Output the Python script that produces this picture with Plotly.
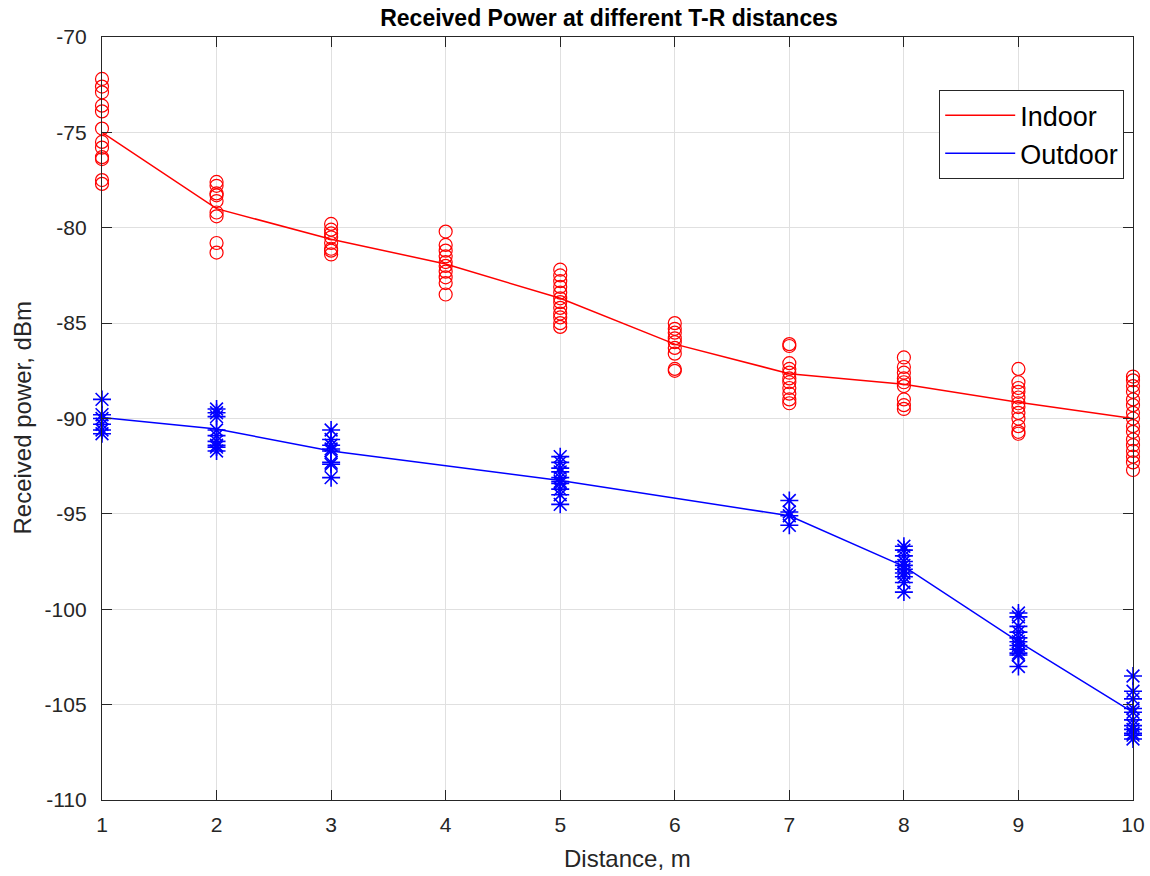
import plotly.graph_objects as go

# Measurement distances (m)
distances = [1, 2, 3, 4, 5, 6, 7, 8, 9, 10]

# Individual indoor measurements per distance (dBm)
indoor_samples = [
    [-72.2, -72.6, -72.9, -73.6, -73.9, -74.8, -75.5, -75.8, -76.3, -76.4, -77.5, -77.7],
    [-77.6, -77.8, -78.2, -78.3, -78.6, -79.2, -79.4, -80.8, -81.3],
    [-79.8, -80.1, -80.3, -80.5, -80.8, -81.1, -81.2, -81.4],
    [-80.2, -80.9, -81.2, -81.5, -81.8, -82.0, -82.3, -82.6, -82.9, -83.5],
    [-82.2, -82.5, -82.8, -83.1, -83.4, -83.7, -83.9, -84.2, -84.5, -84.7, -85.0, -85.2],
    [-85.0, -85.3, -85.5, -85.8, -86.0, -86.3, -86.6, -87.4, -87.5],
    [-86.1, -86.2, -87.1, -87.4, -87.6, -87.9, -88.1, -88.4, -88.7, -89.0, -89.2],
    [-86.8, -87.3, -87.6, -87.9, -88.1, -88.3, -89.0, -89.3, -89.5],
    [-87.4, -88.1, -88.4, -88.6, -88.9, -89.2, -89.4, -89.7, -90.0, -90.4, -90.7, -90.8],
    [-87.8, -88.0, -88.3, -88.6, -89.0, -89.3, -89.7, -90.0, -90.4, -90.7, -91.1,
     -91.4, -91.7, -92.0, -92.3, -92.7],
]
# Indoor average received power (dBm)
indoor_mean = [-75.0, -79.0, -80.6, -81.9, -83.7, -86.1, -87.65, -88.2, -89.15, -90.0]

# Outdoor measurement distances and samples (dBm)
outdoor_distances = [1, 2, 3, 5, 7, 8, 9, 10]
outdoor_samples = [
    [-89.0, -89.8, -90.0, -90.3, -90.6, -90.8],
    [-89.5, -89.7, -89.9, -90.6, -90.9, -91.2, -91.4, -91.5, -91.7],
    [-90.6, -91.1, -91.4, -91.6, -91.7, -92.3, -92.4, -93.1],
    [-92.0, -92.3, -92.6, -92.8, -93.1, -93.3, -93.4, -93.7, -94.0, -94.5],
    [-94.3, -94.9, -95.1, -95.6],
    [-96.7, -96.9, -97.2, -97.5, -97.7, -97.9, -98.1, -98.3, -98.6, -99.1],
    [-100.2, -100.4, -100.9, -101.2, -101.5, -101.7, -101.9, -102.1, -102.3, -102.4, -103.0],
    [-103.5, -104.3, -104.7, -105.2, -105.4, -105.8, -106.1, -106.3, -106.5, -106.6, -106.8],
]
# Outdoor average received power (dBm)
outdoor_mean = [-89.95, -90.55, -91.7, -93.25, -95.1, -97.75, -101.7, -105.4]

x_ticks = list(range(1, 11))
y_ticks = list(range(-110, -69, 5))

TEXT = "#262626"
RED = "#ff0000"
BLUE = "#0000ff"
FONT = "Liberation Sans, Arial, Helvetica, sans-serif"


def flatten(xs, groups):
    px, py = [], []
    for x, g in zip(xs, groups):
        px.extend([x] * len(g))
        py.extend(g)
    return px, py


in_x, in_y = flatten(distances, indoor_samples)
out_x, out_y = flatten(outdoor_distances, outdoor_samples)

fig = go.Figure()

fig.add_trace(go.Scatter(
    x=in_x, y=in_y, mode="markers", showlegend=False, cliponaxis=False,
    marker=dict(symbol="circle-open", size=13, color=RED, line=dict(width=1.2, color=RED)),
))
fig.add_trace(go.Scatter(
    x=out_x, y=out_y, mode="markers", showlegend=False, cliponaxis=False,
    marker=dict(symbol="asterisk-open", size=15, color=BLUE, line=dict(width=1.6, color=BLUE)),
))
fig.add_trace(go.Scatter(
    x=distances, y=indoor_mean, mode="lines", name="Indoor",
    line=dict(color=RED, width=1.5),
))
fig.add_trace(go.Scatter(
    x=outdoor_distances, y=outdoor_mean, mode="lines", name="Outdoor",
    line=dict(color=BLUE, width=1.5),
))

axis_common = dict(
    showline=True, linecolor=TEXT, linewidth=1.3, mirror="ticks",
    ticks="inside", ticklen=10, tickwidth=1.3, tickcolor=TEXT,
    showgrid=True, gridcolor="#e0e0e0", gridwidth=1,
    zeroline=False, automargin=False,
    tickfont=dict(family=FONT, size=21, color=TEXT),
)

fig.update_layout(
    width=1150, height=876,
    margin=dict(l=102, r=17, t=37, b=76),
    paper_bgcolor="white", plot_bgcolor="white",
    title=dict(
        text="<b>Received Power at different T-R distances</b>",
        font=dict(family=FONT, size=23, color="#000000"),
        x=609 / 1150, xref="container", xanchor="center",
        y=1 - 18 / 876, yref="container", yanchor="middle",
    ),
    xaxis=dict(
        range=[1, 10], tickvals=x_ticks, ticktext=[str(v) for v in x_ticks],
        ticklabelstandoff=6, **axis_common,
    ),
    yaxis=dict(
        range=[-110, -70], tickvals=y_ticks, ticktext=[str(v) for v in y_ticks],
        ticklabelstandoff=10, **axis_common,
    ),
    legend=dict(
        x=(939 - 102) / 1031, y=1 - (90 - 37) / 763, xanchor="left", yanchor="top",
        bgcolor="white", bordercolor=TEXT, borderwidth=1.2,
        font=dict(family=FONT, size=27, color="#000000"),
        itemwidth=70, tracegroupgap=0,
    ),
    annotations=[
        dict(text="Distance, m", xref="paper", yref="paper", x=0.51, y=0,
             yshift=-58, showarrow=False, xanchor="center", yanchor="middle",
             font=dict(family=FONT, size=24, color=TEXT)),
        dict(text="Received power, dBm", xref="paper", yref="paper", x=0, y=0.5,
             xshift=-80, showarrow=False, textangle=-90, xanchor="center", yanchor="middle",
             font=dict(family=FONT, size=24, color=TEXT)),
    ],
)

fig.write_html("out.html")
